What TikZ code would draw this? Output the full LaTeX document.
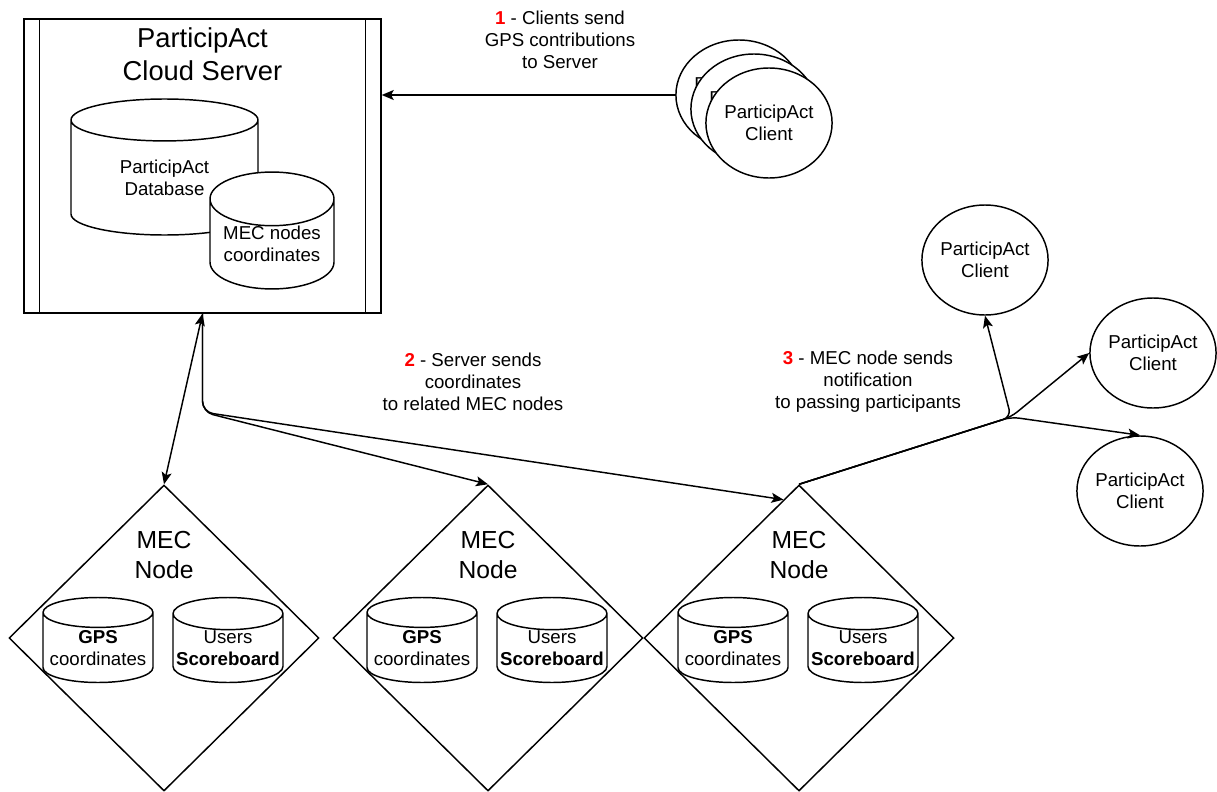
\documentclass[tikz,border=0pt]{standalone}
\usepackage{fontspec}
\setmainfont{Liberation Sans}
\usetikzlibrary{shapes.geometric,arrows.meta,positioning,calc}
\definecolor{stepred}{RGB}{255,0,0}
\tikzset{
  post/.style     = {-{Stealth[length=9pt,width=7.5pt,inset=2pt]}, line width=1.1pt},
  both/.style     = {{Stealth[length=9pt,width=7.5pt,inset=2pt]}-{Stealth[length=9pt,width=7.5pt,inset=2pt]}, line width=1.1pt},
  txt/.style      = {align=center, font=\fontsize{14}{16.5}\selectfont, inner sep=0pt},
  server/.style   = {draw, rectangle, line width=1.1pt, minimum width=267.75pt, minimum height=220.5pt},
  client/.style   = {draw, ellipse, fill=white, line width=1.1pt, minimum width=93.75pt,
                     minimum height=82.5pt, inner sep=0pt, txt},
  database/.style = {draw, cylinder, shape border rotate=90, fill=white, line width=1.1pt,
                     inner sep=0pt, anchor=shape center, txt},
  mec/.style      = {draw, diamond, line width=1.1pt, minimum width=232.5pt, minimum height=229.5pt, inner sep=0pt},
  mectitle/.style = {align=center, font=\fontsize{18.5}{22.5}\selectfont, inner sep=0pt}
}
\newcommand{\stepno}[1]{{\color{stepred}\bfseries #1}}

\begin{document}
\begin{tikzpicture}[x=0.75pt, y=-0.75pt]
    \useasboundingbox (0,0) rectangle (1217,792);

    % cloud server
    \node[server] (srv) at (202.5,166) {};
    \draw[line width=1.1pt] ([xshift=12pt]srv.north west) -- ([xshift=12pt]srv.south west);
    \draw[line width=1.1pt] ([xshift=-12pt]srv.north east) -- ([xshift=-12pt]srv.south east);
    \node[mectitle, font=\fontsize{20.5}{24.75}\selectfont] (srvtitle) at (202.5,54.5) {ParticipAct\\Cloud Server};
    \node[database, aspect=0.47, minimum width=140.25pt, minimum height=102pt] (db) at (164.5,167) {ParticipAct\\Database};
    \node[database, aspect=0.55, minimum width=93pt, minimum height=78.75pt] (mecdb) at (272,230.5) {MEC nodes\\coordinates};

    % clients sending contributions
    \node[client] (cl1) at (739,95) {ParticipAct\\Client};
    \node[client] (cl2) at ($(cl1)+(15,14)$) {ParticipAct\\Client};
    \node[client] (cl3) at ($(cl2)+(15,14)$) {ParticipAct\\Client};
    \draw[post] (cl1.west) -- (cl1.west -| srv.east);
    \node[txt] (lbl1) at (560,40) {\stepno{1} - Clients send\\GPS contributions\\to Server};

    % MEC nodes
    \node[mec] (mec1) at (164,638) {};
    \node[mectitle] (mec1t) at ([yshift=62pt]mec1.center) {MEC\\Node};
    \node[database, aspect=0.31, minimum width=82.5pt, minimum height=63.75pt] (gps1) at (98,640) {\textbf{GPS}\\coordinates};
    \node[database, aspect=0.31, minimum width=82.5pt, minimum height=63.75pt] (score1) at (228,640) {Users\\\textbf{Scoreboard}};

    \node[mec] (mec2) at (488,638) {};
    \node[mectitle] (mec2t) at ([yshift=62pt]mec2.center) {MEC\\Node};
    \node[database, aspect=0.31, minimum width=82.5pt, minimum height=63.75pt] (gps2) at (422,640) {\textbf{GPS}\\coordinates};
    \node[database, aspect=0.31, minimum width=82.5pt, minimum height=63.75pt] (score2) at (552,640) {Users\\\textbf{Scoreboard}};

    \node[mec] (mec3) at (799,638) {};
    \node[mectitle] (mec3t) at ([yshift=62pt]mec3.center) {MEC\\Node};
    \node[database, aspect=0.31, minimum width=82.5pt, minimum height=63.75pt] (gps3) at (733,640) {\textbf{GPS}\\coordinates};
    \node[database, aspect=0.31, minimum width=82.5pt, minimum height=63.75pt] (score3) at (863,640) {Users\\\textbf{Scoreboard}};

    % server to MEC nodes
    \coordinate (fork) at (202.5,412);
    \draw[both] (srv.south) -- (mec1.north);
    \draw[post, rounded corners=8pt] (srv.south) -- (fork) -- (mec2.north);
    \draw[post, rounded corners=8pt] (srv.south) -- (fork) -- ($(mec3.north)!0.1!(mec3.west)$);
    \node[txt] (lbl2) at (473,382) {\stepno{2} - Server sends\\coordinates\\to related MEC nodes};

    % notification to passing clients
    \node[client] (clA) at (985,260) {ParticipAct\\Client};
    \node[client] (clB) at (1153,353) {ParticipAct\\Client};
    \node[client] (clC) at (1140,491) {ParticipAct\\Client};
    \coordinate (split) at (1011,417);
    \draw[post, rounded corners=6pt] (mec3.north) -- (split) -- (clA.south);
    \draw[post, rounded corners=6pt] (mec3.north) -- (split) -- (clB.west);
    \draw[post, rounded corners=6pt] (mec3.north) -- (split) -- (clC.north);
    \node[txt] (lbl3) at (868,382) {\stepno{3} - MEC node sends\\notification\\to passing participants};
  \end{tikzpicture}
\end{document}
